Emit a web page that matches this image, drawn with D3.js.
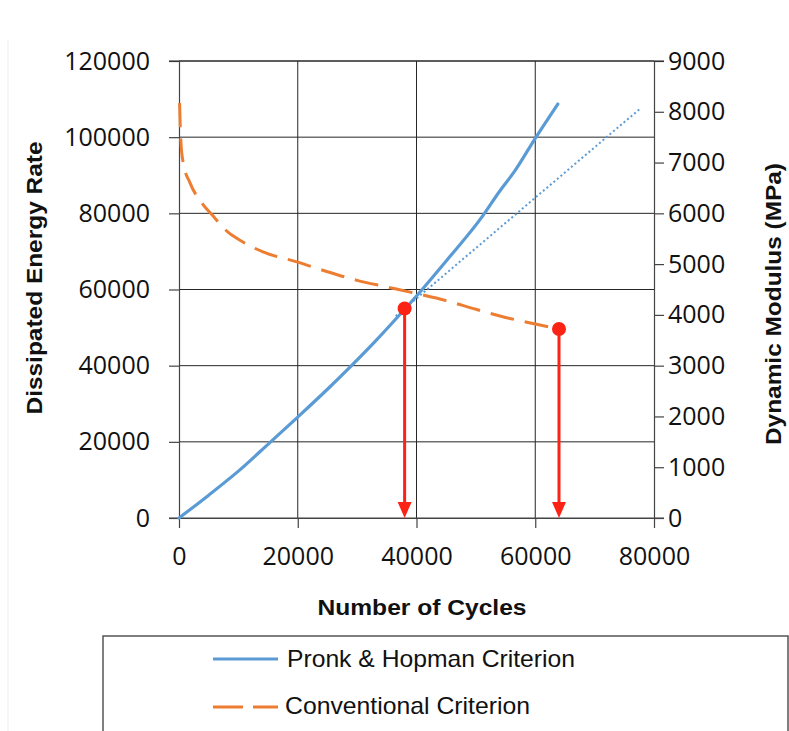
<!DOCTYPE html>
<html><head><meta charset="utf-8">
<script src="https://cdn.jsdelivr.net/npm/d3@7"></script>
<style>
html,body{margin:0;padding:0;background:#fff;}
svg{display:block;}
</style></head>
<body>
<script>
// ---- data ----
const xTicks = [0, 20000, 40000, 60000, 80000];
const yLeftTicks = [0, 20000, 40000, 60000, 80000, 100000, 120000];
const yRightTicks = [0, 1000, 2000, 3000, 4000, 5000, 6000, 7000, 8000, 9000];

// Pronk & Hopman (dissipated energy rate, left axis)
const pronkCycles = [0, 5000, 10000, 15300, 20000, 25000, 28800, 33000, 38000, 40000, 45000, 51000, 54000, 56500, 60000, 63800];
const pronkValues = [0, 6000, 12300, 19800, 26500, 33800, 39600, 46300, 54800, 58300, 67500, 79000, 85800, 91000, 99700, 108700];

// linear trend (dotted, left axis)
const trendCycles = [36500, 77600];
const trendValues = [53000, 107400];

// Conventional (dynamic modulus, right axis)
const convCycles = [100, 200, 300, 700, 1850, 3870, 5560, 8250, 10270, 14150, 20000, 25000, 30000, 35000, 40000, 45000, 50000, 55000, 60000, 64000];
const convValues = [8170, 7750, 7450, 7000, 6600, 6200, 5970, 5630, 5470, 5240, 5040, 4850, 4680, 4550, 4420, 4280, 4110, 3950, 3820, 3722];

// failure points
const failLeft = {cycles: 38000, value: 55000};   // left axis
const failRight = {cycles: 64000, value: 3722};   // right axis

const legendLabels = ["Pronk & Hopman Criterion", "Conventional Criterion"];

// ---- drawing ----
const W = 789, H = 731;
const svg = d3.select("body").append("svg").attr("width", W).attr("height", H);

const x = d3.scaleLinear().domain([0, 80000]).range([179, 654]);
const yL = d3.scaleLinear().domain([0, 120000]).range([518, 61]);
const yR = d3.scaleLinear().domain([0, 9000]).range([518, 61]);

const BLUE = "#5b9bd5", ORANGE = "#ed7d31", RED = "#fa2315", GRID = "#262626";
const tickFont = "'Open Sans', sans-serif";

// faint figure border artifact
svg.append("line").attr("x1", 8).attr("x2", 8).attr("y1", 40).attr("y2", 731)
  .attr("stroke", "#ececec").attr("stroke-width", 1);

// gridlines
const g = svg.append("g");
g.selectAll("line.h").data(yLeftTicks.filter(d => d > 0)).join("line")
  .attr("x1", x(0)).attr("x2", x(80000)).attr("y1", d => yL(d)).attr("y2", d => yL(d))
  .attr("stroke", GRID).attr("stroke-width", 1);
g.selectAll("line.v").data(xTicks.slice(1, -1)).join("line")
  .attr("x1", d => x(d)).attr("x2", d => x(d)).attr("y1", yL(120000)).attr("y2", yL(0))
  .attr("stroke", GRID).attr("stroke-width", 1);

// axes
function styleAxis(sel) {
  sel.selectAll("path.domain").attr("stroke", "#444").attr("stroke-width", 1.2);
  sel.selectAll(".tick line").attr("stroke", "#444").attr("stroke-width", 1.2);
  sel.selectAll(".tick text").attr("font-family", tickFont).attr("font-size", 25).attr("fill", "#111");
}
const axL = svg.append("g").attr("transform", `translate(${x(0)},0)`)
  .call(d3.axisLeft(yL).tickValues(yLeftTicks).tickSize(10).tickSizeOuter(0).tickPadding(19).tickFormat(d3.format("d")));
styleAxis(axL);
const axR = svg.append("g").attr("transform", `translate(${x(80000)},0)`)
  .call(d3.axisRight(yR).tickValues(yRightTicks).tickSize(10).tickSizeOuter(0).tickPadding(4).tickFormat(d3.format("d")));
styleAxis(axR);
const axB = svg.append("g").attr("transform", `translate(0,${yL(0)})`)
  .call(d3.axisBottom(x).tickValues(xTicks).tickSize(10).tickSizeOuter(0).tickPadding(19).tickFormat(d3.format("d")));
styleAxis(axB);
// extend bottom axis line across the side ticks
svg.append("line").attr("x1", x(0) - 10).attr("x2", x(80000) + 10).attr("y1", yL(0)).attr("y2", yL(0))
  .attr("stroke", "#444").attr("stroke-width", 1.2);
svg.append("line").attr("x1", x(0) - 10).attr("x2", x(80000) + 10).attr("y1", yL(120000)).attr("y2", yL(120000))
  .attr("stroke", GRID).attr("stroke-width", 1);

// lines
const pronk = pronkCycles.map((c, i) => [c, pronkValues[i]]);
const trend = trendCycles.map((c, i) => [c, trendValues[i]]);
const conv = convCycles.map((c, i) => [c, convValues[i]]);

const lineL = d3.line().x(d => x(d[0])).y(d => yL(d[1])).curve(d3.curveMonotoneX);
const lineR = d3.line().x(d => x(d[0])).y(d => yR(d[1])).curve(d3.curveMonotoneX);

svg.append("path").attr("d", lineL(trend)).attr("fill", "none")
  .attr("stroke", BLUE).attr("stroke-width", 2).attr("stroke-dasharray", "2,2.6");
svg.append("path").attr("d", lineR(conv)).attr("fill", "none")
  .attr("stroke", ORANGE).attr("stroke-width", 3).attr("stroke-dasharray", "24,11");
svg.append("path").attr("d", lineL(pronk)).attr("fill", "none")
  .attr("stroke", BLUE).attr("stroke-width", 3.2).attr("stroke-linecap", "round");

// failure arrows
function arrow(px, py) {
  const yb = yL(0);
  svg.append("line").attr("x1", px).attr("x2", px).attr("y1", py).attr("y2", yb - 12)
    .attr("stroke", RED).attr("stroke-width", 3);
  svg.append("path").attr("d", `M${px - 7},${yb - 16} L${px + 7},${yb - 16} L${px},${yb} Z`).attr("fill", RED);
  svg.append("circle").attr("cx", px).attr("cy", py).attr("r", 7).attr("fill", RED);
}
arrow(x(failLeft.cycles), yL(failLeft.value));
arrow(x(failRight.cycles), yR(failRight.value));

// axis titles
const titleFont = "'Liberation Sans', Arial, sans-serif";
svg.append("text").attr("x", 422).attr("y", 615).attr("text-anchor", "middle")
  .attr("font-family", titleFont).attr("font-weight", "bold").attr("font-size", 22)
  .attr("textLength", 209).attr("lengthAdjust", "spacingAndGlyphs").attr("fill", "#111")
  .text("Number of Cycles");
svg.append("text").attr("transform", "translate(42,278) rotate(-90)").attr("text-anchor", "middle")
  .attr("font-family", titleFont).attr("font-weight", "bold").attr("font-size", 22)
  .attr("textLength", 273).attr("lengthAdjust", "spacingAndGlyphs").attr("fill", "#111")
  .text("Dissipated Energy Rate");
svg.append("text").attr("transform", "translate(781,304) rotate(-90)").attr("text-anchor", "middle")
  .attr("font-family", titleFont).attr("font-weight", "bold").attr("font-size", 22)
  .attr("textLength", 282).attr("lengthAdjust", "spacingAndGlyphs").attr("fill", "#111")
  .text("Dynamic Modulus (MPa)");

// legend
svg.append("rect").attr("x", 103).attr("y", 636).attr("width", 685).attr("height", 110)
  .attr("fill", "#fff").attr("stroke", "#555").attr("stroke-width", 1.5);
svg.append("line").attr("x1", 213).attr("x2", 278).attr("y1", 659).attr("y2", 659)
  .attr("stroke", BLUE).attr("stroke-width", 3);
svg.append("line").attr("x1", 213).attr("x2", 278).attr("y1", 707).attr("y2", 707)
  .attr("stroke", ORANGE).attr("stroke-width", 3).attr("stroke-dasharray", "30,10");
svg.append("text").attr("x", 287).attr("y", 667).attr("font-family", titleFont).attr("font-size", 24)
  .attr("textLength", 288).attr("lengthAdjust", "spacingAndGlyphs").attr("fill", "#111").text(legendLabels[0]);
svg.append("text").attr("x", 285).attr("y", 714).attr("font-family", titleFont).attr("font-size", 24)
  .attr("textLength", 245).attr("lengthAdjust", "spacingAndGlyphs").attr("fill", "#111").text(legendLabels[1]);
</script>
</body></html>
